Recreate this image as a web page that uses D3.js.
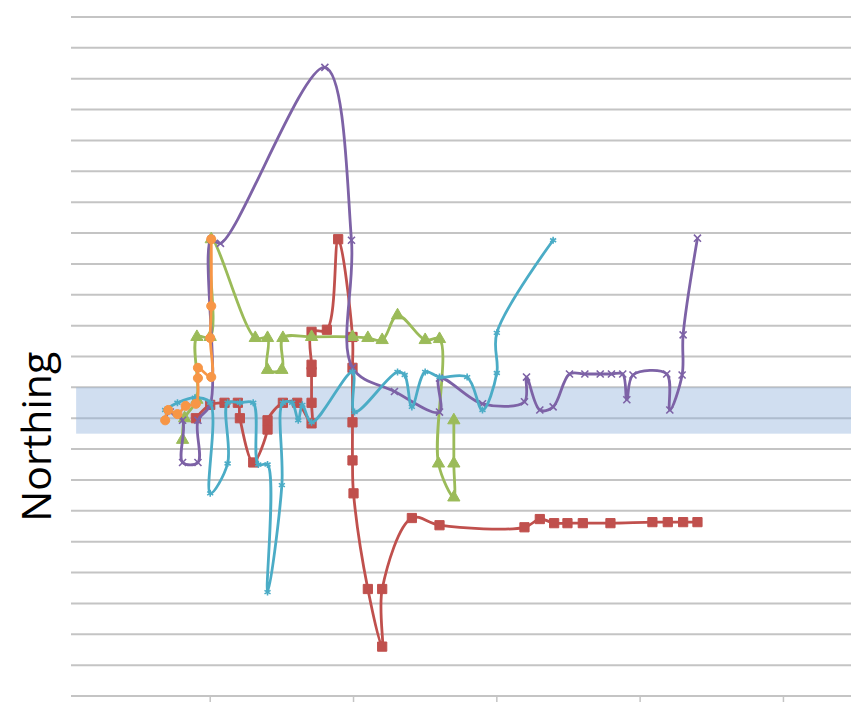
<!DOCTYPE html>
<html>
<head>
<meta charset="utf-8">
<script src="https://cdn.jsdelivr.net/npm/d3@7"></script>
<style>
  body { margin: 0; background: #fff; }
</style>
</head>
<body>
<script>
const width = 866, height = 703;

// axis values (no labels are shown on the chart)
const xTicks = [140, 280, 420, 560, 700];
const yGrid = d3.range(0, 661, 30);
const band = [255, 300];
const bandX = [9, 766];

// series
const redX = [126,140,154,167,169,182,196,196,211,225,239,239,239,239,239,254,265,279,279,279,279,280,294,308,308,337,364,447,462,476,489,504,531,572,587,602,616];
const redY = [270,283,285,285,270,227,259,268,285,285,265,285,315,322,354,356,444,349,319,266,229,197,104,48,104,173,166,164,172,168,168,168,168,169,169,169,169];

const greenX = [113,115,127,127,140,141,184,196,196,210,211,239,279,294,308,323,350,364,363,378,378,378];
const greenY = [249,270,288,349,349,444,348,348,317,317,348,349,349,348,346,370,346,347,226,193,226,268];

const purpleX = [101,113,113,128,128,140,141,150,252,278,279,320,364,364,406,447,449,462,475,491,506,521,532,543,547,553,586,589,601,602,616];
const purpleY = [276,268,227,227,268,283,444,440,611,443,319,296,276,309,284,286,310,278,281,313,313,313,313,313,288,312,313,278,312,351,445];

const cyanX = [96,108,125,140,140,157,157,169,182,187,196,196,210,211,220,226,230,239,279,281,323,330,337,350,364,391,406,420,420,475];
const cyanY = [278,285,290,285,197,226,285,285,285,225,225,101,205,285,285,268,283,266,315,276,315,312,281,315,310,310,278,314,353,443];

const orangeX = [96,99,108,116,126,128,128,141,140,141,141];
const orangeY = [268,278,274,282,284,309,319,310,348,379,444];

const series = [
  {name: "red", color: "#c0504d", symbol: d3.symbolSquare, size: 85, xs: redX, ys: redY, filled: true},
  {name: "green", color: "#9bbb59", symbol: d3.symbolTriangle, size: 65, xs: greenX, ys: greenY, filled: true},
  {name: "purple", color: "#7d62a6", symbol: d3.symbolX, size: 34, xs: purpleX, ys: purpleY, filled: false},
  {name: "cyan", color: "#4bacc6", symbol: d3.symbolAsterisk, size: 34, xs: cyanX, ys: cyanY, filled: false},
  {name: "orange", color: "#f79646", symbol: d3.symbolCircle, size: 65, xs: orangeX, ys: orangeY, filled: true}
];

const x = d3.scaleLinear().domain([4, 766]).range([71, 851]);
const y = d3.scaleLinear().domain([0, 660]).range([696, 17]);

const svg = d3.select("body").append("svg")
    .attr("width", width)
    .attr("height", height)
    .attr("viewBox", [0, 0, width, height]);

// horizontal gridlines
svg.append("g")
    .attr("stroke", "#c4c4c4")
    .attr("stroke-width", 2)
  .selectAll("line")
  .data(yGrid)
  .join("line")
    .attr("x1", x.range()[0])
    .attr("x2", x.range()[1])
    .attr("y1", d => y(d))
    .attr("y2", d => y(d));

// x axis tick marks below the bottom line
svg.append("g")
    .attr("stroke", "#c4c4c4")
    .attr("stroke-width", 1.5)
  .selectAll("line")
  .data(xTicks)
  .join("line")
    .attr("x1", d => x(d))
    .attr("x2", d => x(d))
    .attr("y1", y(0))
    .attr("y2", y(0) + 6);

// shaded band
svg.append("rect")
    .attr("x", x(bandX[0]))
    .attr("width", x(bandX[1]) - x(bandX[0]))
    .attr("y", y(band[1]))
    .attr("height", y(band[0]) - y(band[1]))
    .attr("fill", "#8fb0dc")
    .attr("fill-opacity", 0.42);

const line = d3.line()
    .x(d => x(d[0]))
    .y(d => y(d[1]))
    .curve(d3.curveCatmullRom.alpha(0.5));

for (const s of series) {
  const pts = s.xs.map((v, i) => [v, s.ys[i]]);
  const g = svg.append("g");
  g.append("path")
      .datum(pts)
      .attr("fill", "none")
      .attr("stroke", s.color)
      .attr("stroke-width", 2.8)
      .attr("stroke-linejoin", "round")
      .attr("d", line);
  g.selectAll("path.m")
    .data(pts)
    .join("path")
      .attr("class", "m")
      .attr("transform", d => `translate(${x(d[0])},${y(d[1])})`)
      .attr("d", d3.symbol(s.symbol, s.size))
      .attr("fill", s.filled ? s.color : "none")
      .attr("stroke", s.color)
      .attr("stroke-width", s.filled ? 1 : 1.6);
}

// axis title
svg.append("text")
    .attr("transform", `translate(51,${y(252)}) rotate(-90)`)
    .attr("text-anchor", "middle")
    .attr("font-family", "'Open Sans', sans-serif")
    .attr("font-size", 41)
    .attr("fill", "#000")
    .text("Northing");
</script>
</body>
</html>
